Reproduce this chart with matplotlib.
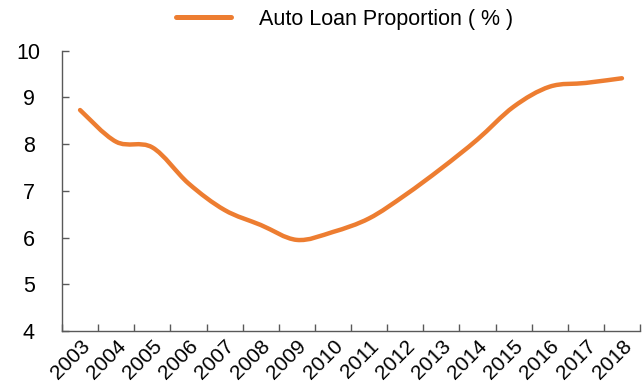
import matplotlib
matplotlib.use("Agg")
import matplotlib.pyplot as plt
from matplotlib.path import Path
from matplotlib.patches import PathPatch
from matplotlib.lines import Line2D
import numpy as np

plt.rcParams['font.family'] = ['Liberation Sans', 'DejaVu Sans']

years = ['2003', '2004', '2005', '2006', '2007', '2008', '2009', '2010',
         '2011', '2012', '2013', '2014', '2015', '2016', '2017', '2018']
auto_loan = [8.73, 8.05, 7.93, 7.16, 6.59, 6.27, 5.95, 6.12,
             6.41, 6.91, 7.48, 8.10, 8.80, 9.23, 9.31, 9.41]
series_name = 'Auto Loan Proportion ( % )'

color = '#ED7D31'
axis_color = '#595959'

fig = plt.figure(figsize=(6.42, 3.89), dpi=100)
ax = fig.add_axes([62/642, 1-331/389, (640-62)/642, (331-50.7)/389])

x = np.arange(len(years), dtype=float)
y = np.array(auto_loan, dtype=float)

# Smoothed line (Excel-style Bezier smoothing through the data points)
verts = [(x[0], y[0])]
codes = [Path.MOVETO]
n = len(x)
for i in range(n - 1):
    p0 = np.array([x[max(i-1, 0)], y[max(i-1, 0)]])
    p1 = np.array([x[i], y[i]])
    p2 = np.array([x[i+1], y[i+1]])
    p3 = np.array([x[min(i+2, n-1)], y[min(i+2, n-1)]])
    c1 = p1 + (p2 - p0) / 6.0
    c2 = p2 - (p3 - p1) / 6.0
    verts += [tuple(c1), tuple(c2), tuple(p2)]
    codes += [Path.CURVE4] * 3
path = Path(verts, codes)
ax.add_patch(PathPatch(path, fill=False, edgecolor=color, lw=3.2,
                       capstyle='round', joinstyle='round', zorder=3))

ax.set_xlim(-0.5, n - 0.5)
ax.set_ylim(4, 10)
ax.set_yticks(range(4, 11))
ax.set_yticklabels([str(v) for v in range(4, 11)])
ax.set_xticks(x)
ax.set_xticklabels(years, rotation=45, ha='right', rotation_mode='anchor')
ax.set_xticks(np.arange(-0.5, n, 1.0), minor=True)
ax.tick_params(axis='x', which='major', length=0, pad=4, labelsize=15)
ax.tick_params(axis='x', which='minor', direction='in', length=5, color=axis_color, width=1)
ax.tick_params(axis='y', direction='in', length=5, color=axis_color, width=1,
               labelsize=15.5, pad=24)
for lab in ax.get_yticklabels():
    lab.set_horizontalalignment('center')

for s in ['top', 'right']:
    ax.spines[s].set_visible(False)
for s in ['left', 'bottom']:
    ax.spines[s].set_color(axis_color)
    ax.spines[s].set_linewidth(1)

handle = Line2D([], [], color=color, lw=3.6, solid_capstyle='round')
fig.legend([handle], [series_name], loc='center', bbox_to_anchor=(344.5/642, 1-19/389),
           frameon=False, fontsize=15.5, handlelength=2.55, handletextpad=1.3)

fig.savefig('out.png', dpi=100)
